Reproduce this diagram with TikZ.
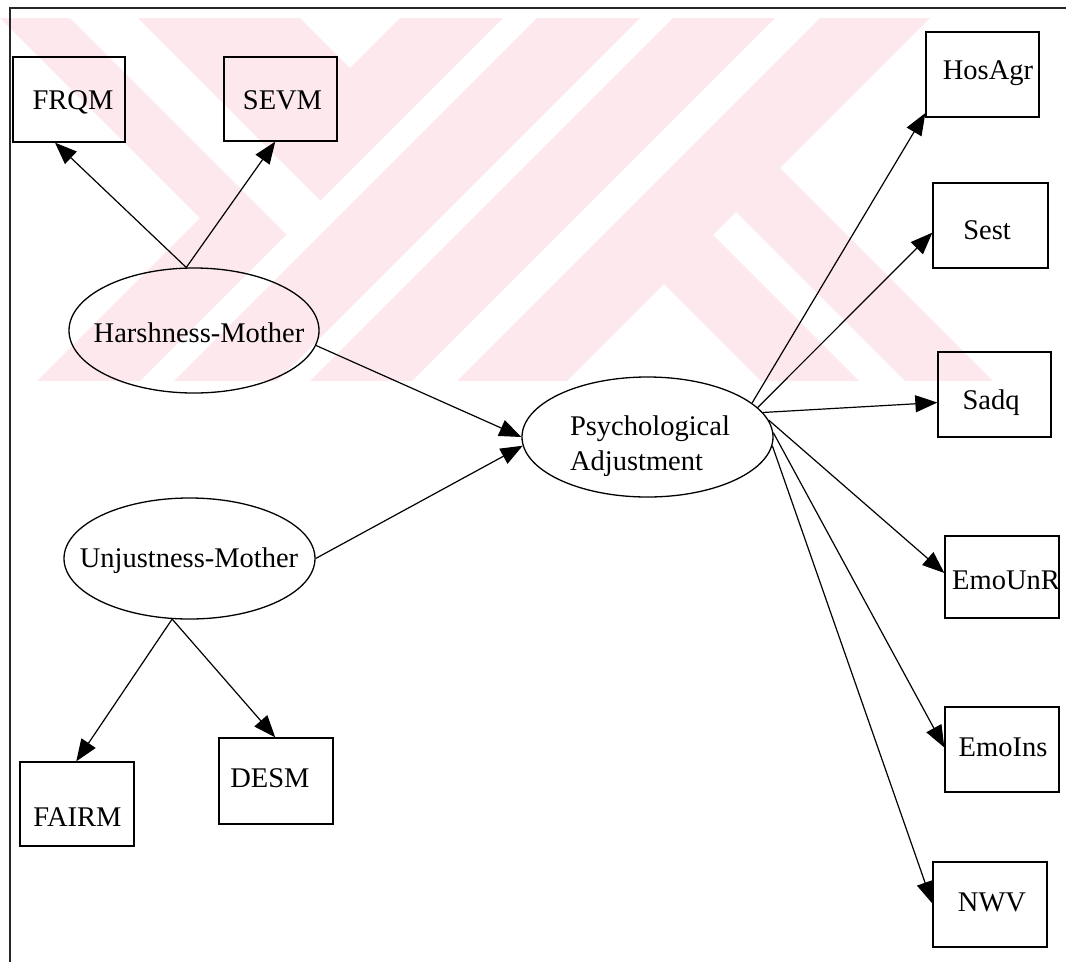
\documentclass[tikz,border=0pt]{standalone}
\usepackage{fontspec}
\setmainfont{Liberation Serif}
\usetikzlibrary{arrows.meta,shapes.geometric}
\definecolor{wm}{RGB}{252,232,237}
\tikzset{
  box/.style={draw=black, line width=1.3pt, rectangle, inner sep=0pt},
  oval/.style={draw=black, line width=1.3pt, ellipse, inner sep=0pt},
  lbl/.style={inner sep=0pt, font=\fontsize{28.5}{35}\selectfont, text height=19pt, text depth=0pt},
  mlbl/.style={inner sep=0pt, font=\fontsize{28.5}{35}\selectfont, align=left},
  link/.style={line width=1.2pt, -{Triangle[length=22pt,width=17pt]}},
  frameline/.style={line width=1.2pt, black!85},
}
\begin{document}
\begin{tikzpicture}[x=1pt,y=-1pt]
\useasboundingbox (0,0) rectangle (1066,962);
% watermark
\begin{scope}
\clip (0,18) rectangle (1066,380);
\fill[wm] (-509,-491) -- (200,218) -- (235,183) -- (-474,-526) -- cycle;
\fill[wm] (-440,-560) -- (269,149) -- (350,68) -- (-359,-641) -- cycle;
\fill[wm] (269,149) -- (320.5,200.5) -- (1010.5,-489.5) -- (959,-541) -- cycle;
\fill[wm] (235,183) -- (286.5,234.5) -- (-489.5,1010.5) -- (-541,959) -- cycle;
\fill[wm] (655,-100) -- (758,-100) -- (158,500) -- (55,500) -- cycle;
\fill[wm] (791,-100) -- (893,-100) -- (293,500) -- (191,500) -- cycle;
\fill[wm] (938,-100) -- (1048,-100) -- (448,500) -- (338,500) -- cycle;
\fill[wm] (736,212) -- (780,168) -- (1306,694) -- (1262,738) -- cycle;
\fill[wm] (664,284) -- (713,235) -- (1239,761) -- (1190,810) -- cycle;
\end{scope}
% frame
\draw[frameline] (10,962) -- (10,8) -- (1066,8);
% boxes
\node[box, minimum width=112pt, minimum height=85pt] (frqm) at (69,99.5) {};
\node[lbl] (frqmt) at (73,100) {FRQM};
\node[box, minimum width=113pt, minimum height=84pt] (sevm) at (280.5,99) {};
\node[lbl] (sevmt) at (282.5,100) {SEVM};
\node[box, minimum width=113pt, minimum height=85pt] (hosagr) at (982.5,74.5) {};
\node[lbl] (hosagrt) at (988,70) {HosAgr};
\node[box, minimum width=115pt, minimum height=85pt] (sest) at (990.5,225.5) {};
\node[lbl] (sestt) at (987,230) {Sest};
\node[box, minimum width=113pt, minimum height=85pt] (sadq) at (994.5,394.5) {};
\node[lbl] (sadqt) at (991,400) {Sadq};
\node[box, minimum width=114pt, minimum height=82pt] (emounr) at (1002,577) {};
\node[lbl] (emounrt) at (1006,580) {EmoUnR};
\node[box, minimum width=114pt, minimum height=85pt] (emoins) at (1002,749.5) {};
\node[lbl] (emoinst) at (1003,747) {EmoIns};
\node[box, minimum width=114pt, minimum height=85pt] (nwv) at (990,904.5) {};
\node[lbl] (nwvt) at (992,902) {NWV};
\node[box, minimum width=114pt, minimum height=84pt] (fairm) at (77,804) {};
\node[lbl] (fairmt) at (77.5,817) {FAIRM};
\node[box, minimum width=114pt, minimum height=86pt] (desm) at (276,781) {};
\node[lbl] (desmt) at (270,778) {DESM};
% ellipses
\node[oval, minimum width=250pt, minimum height=125pt] (hm) at (194,330.5) {};
\node[lbl] (hmt) at (199,333) {Harshness-Mother};
\node[oval, minimum width=251pt, minimum height=121pt] (um) at (189.5,558.5) {};
\node[lbl] (umt) at (189,558) {Unjustness-Mother};
\node[oval, minimum width=251pt, minimum height=120pt] (pa) at (647.5,437) {};
\node[mlbl] (pat) at (650,446) {Psychological\\Adjustment};
% connectors
\draw[link] (hm.97) -- (frqm.252);
\draw[link] (hm.97) -- (sevm.263);
\draw[link] (hm.-7) -- (pa.180);
\draw[link] (um.0) -- (pa.184);
\draw[link] (um.254) -- (fairm.91);
\draw[link] (um.254) -- (desm.91);
\draw[link] (pa.18) -- (hosagr.214);
\draw[link] (pa.15) -- (sest.187);
\draw[link] (pa.12) -- (sadq.188);
\draw[link] (pa.8) -- (emounr.176);
\draw[link] (pa.2) -- (emoins.178);
\draw[link] (pa.-4) -- (nwv.179);
\end{tikzpicture}
\end{document}
